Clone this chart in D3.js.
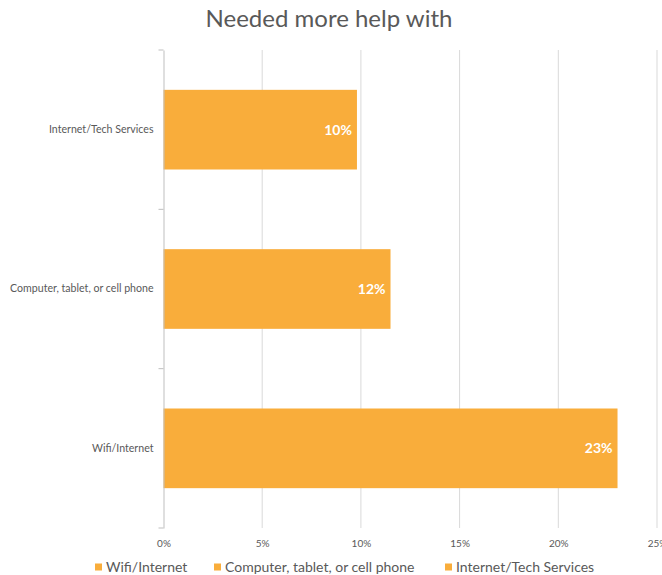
<!DOCTYPE html>
<html>
<head>
<meta charset="utf-8">
<script src="https://cdn.jsdelivr.net/npm/d3@7"></script>
<style>
  html, body { margin: 0; padding: 0; background: #fff; }
  svg { display: block; }
</style>
</head>
<body>
<svg id="chart" width="662" height="575"></svg>
<script>
// Share of respondents who needed more help, by topic
const categories = ["Internet/Tech Services", "Computer, tablet, or cell phone", "Wifi/Internet"];
const values = [9.8, 11.5, 23.0];
const xTicks = [0, 5, 10, 15, 20, 25];
const legendItems = ["Wifi/Internet", "Computer, tablet, or cell phone", "Internet/Tech Services"];

const barColor = "#F9AD3B";
const textColor = "#595959";
const font = "Lato, 'Open Sans', sans-serif";

const svg = d3.select("#chart");
const margin = { top: 50, left: 163.5, right: 5, bottom: 47 };
const W = 662, H = 575;

const x = d3.scaleLinear().domain([0, 25]).range([margin.left, 657]);
const y = d3.scaleBand().domain(categories).range([margin.top, H - margin.bottom]).paddingInner(0.5).paddingOuter(0.25);

// title
svg.append("text")
  .attr("x", 329).attr("y", 27)
  .attr("text-anchor", "middle")
  .attr("font-family", font)
  .attr("font-size", 24)
  .attr("fill", textColor)
  .text("Needed more help with");

// vertical gridlines
svg.append("g")
  .selectAll("line")
  .data(xTicks.slice(1))
  .join("line")
  .attr("x1", d => x(d)).attr("x2", d => x(d))
  .attr("y1", margin.top).attr("y2", H - margin.bottom)
  .attr("stroke", "#d9d9d9").attr("stroke-width", 1);

// bars
svg.append("g")
  .selectAll("rect")
  .data(categories)
  .join("rect")
  .attr("x", x(0))
  .attr("y", d => y(d))
  .attr("width", (d, i) => x(values[i]) - x(0))
  .attr("height", y.bandwidth())
  .attr("fill", barColor);

// value labels inside bar ends
svg.append("g")
  .selectAll("text")
  .data(categories)
  .join("text")
  .attr("x", (d, i) => x(values[i]) - 5)
  .attr("y", d => y(d) + y.bandwidth() / 2)
  .attr("dy", "0.35em")
  .attr("text-anchor", "end")
  .attr("font-family", font)
  .attr("font-weight", "bold")
  .attr("font-size", 14)
  .attr("fill", "#fff")
  .text((d, i) => Math.round(values[i]) + "%");

// category axis
const yAxisScale = d3.scaleBand().domain(categories).range([margin.top, H - margin.bottom]);
const yAxis = svg.append("g")
  .attr("transform", `translate(${x(0)},0)`)
  .call(d3.axisLeft(yAxisScale).tickSize(0).tickPadding(10));
yAxis.select(".domain").attr("stroke", "#bfbfbf");
yAxis.selectAll(".tick text")
  .attr("font-family", font)
  .attr("font-size", 10.6)
  .attr("fill", textColor);
// boundary ticks between categories
svg.append("g")
  .selectAll("line")
  .data(d3.range(categories.length + 1))
  .join("line")
  .attr("x1", x(0) - 5).attr("x2", x(0))
  .attr("y1", i => margin.top + i * yAxisScale.step())
  .attr("y2", i => margin.top + i * yAxisScale.step())
  .attr("stroke", "#bfbfbf");

// value axis labels
const xAxis = svg.append("g")
  .attr("transform", `translate(0,${H - margin.bottom})`)
  .call(d3.axisBottom(x).tickValues(xTicks).tickSize(0).tickPadding(12).tickFormat(d => d + "%"));
xAxis.select(".domain").remove();
xAxis.selectAll(".tick text")
  .attr("font-family", font)
  .attr("font-size", 10)
  .attr("fill", textColor);

// legend
const legendX = [95, 214, 445];
const lg = svg.append("g")
  .selectAll("g")
  .data(legendItems)
  .join("g")
  .attr("transform", (d, i) => `translate(${legendX[i]},567)`);
lg.append("rect")
  .attr("x", 0).attr("y", -3.5)
  .attr("width", 7).attr("height", 7)
  .attr("fill", barColor);
lg.append("text")
  .attr("x", 11).attr("dy", "0.35em")
  .attr("font-family", font)
  .attr("font-size", 14)
  .attr("fill", textColor)
  .text(d => d);
</script>
</body>
</html>
